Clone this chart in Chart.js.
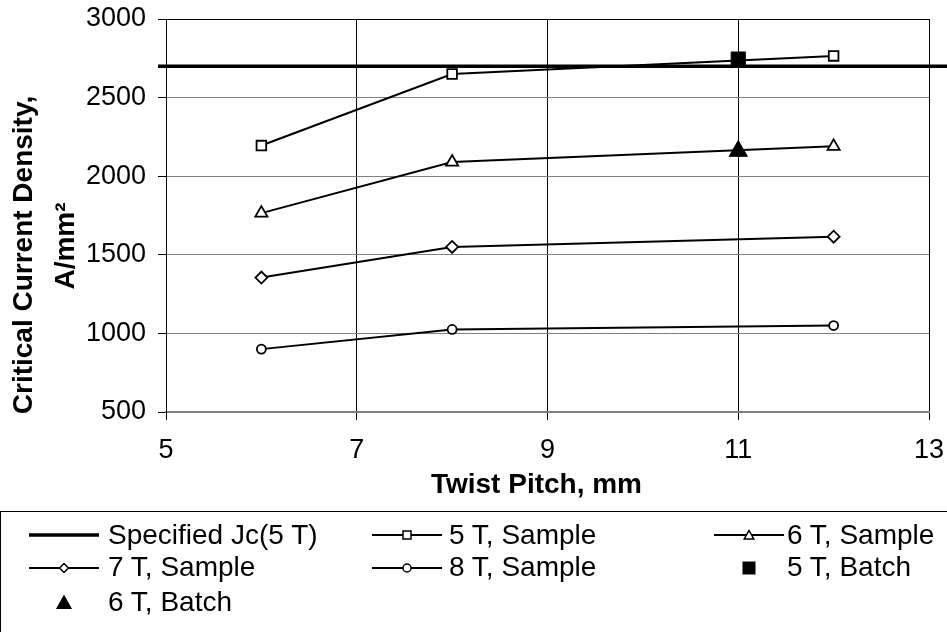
<!DOCTYPE html>
<html>
<head>
<meta charset="utf-8">
<script src="https://cdn.jsdelivr.net/npm/chart.js@4.4.1/dist/chart.umd.min.js"></script>
<style>
  html, body { margin: 0; padding: 0; background: #fff; }
  #wrap { position: relative; width: 947px; height: 632px; overflow: hidden;
          font-family: "Liberation Sans", Arial, sans-serif; color: #000; }
  #chart { position: absolute; left: 0; top: 0; }
  .title { position: absolute; width: 400px; height: 28px; line-height: 28px; font-size: 28px;
           font-weight: bold; text-align: center; white-space: nowrap; }
  .rot { transform: rotate(-90deg); }
  #legend { position: absolute; left: 0; top: 511px; width: 990px; height: 150px;
            border: 1.5px solid #000; box-sizing: border-box; }
  .lg { position: absolute; font-size: 28px; line-height: 28px; white-space: nowrap; }
  .icon { position: absolute; width: 70px; height: 20px; overflow: visible; }
</style>
</head>
<body>
<div id="wrap">
  <canvas id="chart" width="947" height="632"></canvas>

  <!-- axis titles -->
  <div class="title rot" style="left:-177.5px; top:241px;">Critical Current Density,</div>
  <div class="title rot" style="left:-135px; top:232px;">A/mm²</div>
  <div class="title" style="left:336.5px; top:470px;">Twist Pitch, mm</div>

  <div id="legend"></div>
</div>

<script>
// data
const twistPitch = [6, 8, 12];
const jc5T = [2195, 2650, 2765];
const jc6T = [1765, 2090, 2190];
const jc7T = [1355, 1550, 1615];
const jc8T = [900, 1025, 1050];

const batchPitch = [11];
const batch5T = [2745];
const batch6T = [2160];

const specifiedJc = 2700;

const xMin = 5, xMax = 13, xStep = 2;
const yMin = 500, yMax = 3000, yStep = 500;

const FONT = '"Liberation Sans", Arial, sans-serif';

function pts(xs, ys) {
    return xs.map((x, i) => ({ x: x, y: ys[i] }));
}

function sampleSet(label, ys, style, r) {
    return {
        label: label,
        data: pts(twistPitch, ys),
        showLine: true,
        borderColor: '#000',
        borderWidth: 2,
        pointStyle: style,
        pointRadius: r,
        pointBorderWidth: 1.8,
        pointBorderColor: '#000',
        pointBackgroundColor: '#fff',
        tension: 0
    };
}

function batchSet(label, ys, style, r) {
    return {
        label: label,
        data: pts(batchPitch, ys),
        showLine: false,
        pointStyle: style,
        pointRadius: r,
        pointBorderWidth: 1,
        pointBorderColor: '#000',
        pointBackgroundColor: '#000'
    };
}

// thick horizontal "Specified Jc" line, runs past the plot on both sides
const specLine = {
    id: 'specLine',
    beforeDatasetsDraw(chart) {
        const y = chart.scales.y.getPixelForValue(specifiedJc);
        const ctx = chart.ctx;
        ctx.save();
        ctx.strokeStyle = '#000';
        ctx.lineWidth = 3.5;
        ctx.beginPath();
        ctx.moveTo(chart.chartArea.left - 8, y);
        ctx.lineTo(chart.width, y);
        ctx.stroke();
        ctx.restore();
    }
};

new Chart(document.getElementById('chart'), {
    type: 'scatter',
    data: {
        datasets: [
            sampleSet('5 T, Sample', jc5T, 'rect', 6.8),
            sampleSet('6 T, Sample', jc6T, 'triangle', 7),
            sampleSet('7 T, Sample', jc7T, 'rectRot', 6),
            sampleSet('8 T, Sample', jc8T, 'circle', 4.5),
            batchSet('5 T, Batch', batch5T, 'rect', 10),
            batchSet('6 T, Batch', batch6T, 'triangle', 10.5)
        ]
    },
    plugins: [specLine],
    options: {
        responsive: false,
        animation: false,
        layout: { padding: { top: 19, right: 18, left: 0, bottom: 0 } },
        plugins: { legend: { display: false }, tooltip: { enabled: false } },
        scales: {
            x: {
                type: 'linear',
                min: xMin, max: xMax,
                ticks: { stepSize: xStep, color: '#000', padding: 14, maxRotation: 0,
                         font: { family: FONT, size: 27 },
                         callback: v => String(v) },
                grid: { color: '#000', lineWidth: 1, tickLength: 8, tickColor: '#000' },
                border: { color: '#808080', width: 2 },
                afterFit(s) { s.height = 220; s.paddingLeft = 0; s.paddingRight = 0; }
            },
            y: {
                min: yMin, max: yMax,
                ticks: { stepSize: yStep, color: '#000', padding: 12,
                         font: { family: FONT, size: 27 },
                         callback: v => String(v) },
                grid: {
                    color: c => (c.tick && c.tick.value === yMax) ? '#000' : '#808080',
                    lineWidth: 1, tickLength: 8, tickColor: '#000'
                },
                border: { color: '#000', width: 1 },
                afterFit(s) { s.width = 166; s.paddingTop = 0; s.paddingBottom = 0; }
            }
        }
    }
});

// legend (boxed, three columns) built as html with small svg keys
const legendItems = [
    { text: 'Specified Jc(5 T)', col: 0, row: 0, line: 3.5, mark: null },
    { text: '5 T, Sample', col: 1, row: 0, line: 1.8, mark: 'square' },
    { text: '6 T, Sample', col: 2, row: 0, line: 1.8, mark: 'triangle' },
    { text: '7 T, Sample', col: 0, row: 1, line: 1.8, mark: 'diamond' },
    { text: '8 T, Sample', col: 1, row: 1, line: 1.8, mark: 'circle' },
    { text: '5 T, Batch', col: 2, row: 1, line: 0, mark: 'bigSquare' },
    { text: '6 T, Batch', col: 0, row: 2, line: 0, mark: 'bigTriangle' }
];
const colIconX = [62.5, 406, 748];
const colTextX = [107, 448, 786];
const rowIconY = [534, 567, 601];
const rowTextTop = [519.5, 552, 587];

function markSvg(kind) {
    const s = 'stroke="#000" stroke-width="1.5"';
    switch (kind) {
        case 'square': return `<rect x="31" y="6" width="8" height="8" fill="#fff" ${s}/>`;
        case 'triangle': return `<polygon points="35,5.5 39.8,14 30.2,14" fill="#fff" ${s}/>`;
        case 'diamond': return `<polygon points="35,5.5 39.5,10 35,14.5 30.5,10" fill="#fff" ${s}/>`;
        case 'circle': return `<circle cx="35" cy="10" r="4" fill="#fff" ${s}/>`;
        case 'bigSquare': return `<rect x="28.5" y="3.5" width="13" height="13" fill="#000"/>`;
        case 'bigTriangle': return `<polygon points="35,2.5 43,17 27,17" fill="#000"/>`;
    }
    return '';
}

const legendEl = document.getElementById('legend');
let html = '';
legendItems.forEach(it => {
    const cx = colIconX[it.col], cy = rowIconY[it.row];
    let svg = `<svg class="icon" style="left:${cx - 35}px;top:${cy - 10 - 511}px" width="70" height="20">`;
    if (it.line) svg += `<line x1="0" y1="10" x2="70" y2="10" stroke="#000" stroke-width="${it.line}"/>`;
    svg += markSvg(it.mark) + '</svg>';
    html += svg;
    html += `<div class="lg" style="left:${colTextX[it.col]}px;top:${rowTextTop[it.row] - 511}px">${it.text}</div>`;
});
legendEl.innerHTML = html;
</script>
</body>
</html>
